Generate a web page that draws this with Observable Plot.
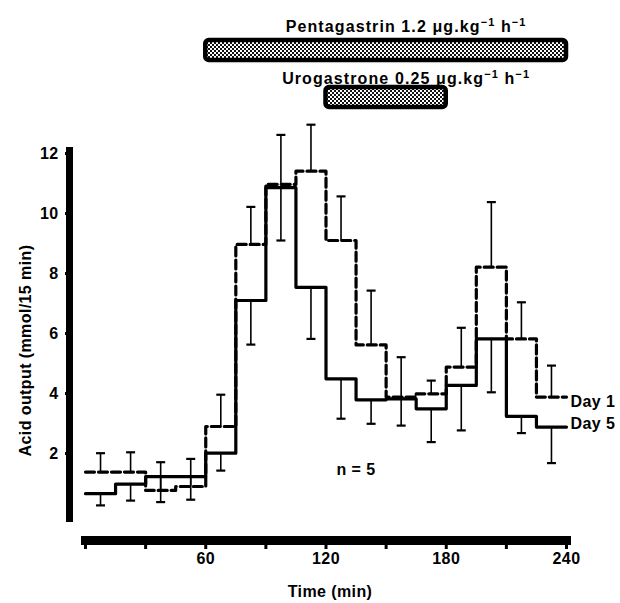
<!DOCTYPE html>
<html>
<head>
<meta charset="utf-8">
<script src="https://cdn.jsdelivr.net/npm/d3@7"></script>
<script src="https://cdn.jsdelivr.net/npm/@observablehq/plot@0.6"></script>
<style>
  body { margin: 0; background: #fff; }
  #chart { width: 620px; height: 603px; }
  #chart svg { display: block; }
</style>
</head>
<body>
<div id="chart"></div>
<script>
// ---- data ----
const periodStart = [0, 15, 30, 45, 60, 75, 90, 105, 120, 135, 150, 165, 180, 195, 210, 225];
const periodLength = 15;
const day1 = [1.38, 1.38, 0.77, 0.90, 2.90, 8.97, 10.97, 11.41, 9.10, 5.62, 3.88, 3.99, 4.88, 8.21, 5.82, 3.88];
const day1Sem = [0.63, 0.66, 0.94, 0.92, 1.06, 1.25, 1.65, 1.55, 1.47, 1.81, 1.33, 0.44, 1.31, 2.17, 1.22, 1.05];
const day5 = [0.66, 0.98, 1.23, 1.23, 2.01, 7.10, 10.86, 7.54, 4.49, 3.79, 3.82, 3.49, 4.27, 5.82, 3.24, 2.88];
const day5Sem = [0.39, 0.55, 0.85, 0.77, 0.58, 1.47, 1.76, 1.72, 1.33, 0.80, 0.89, 1.11, 1.50, 1.78, 0.56, 1.20];
const seriesNames = ["Day 1", "Day 5"];
const treatments = ["Pentagastrin", "Urogastrone"];
const treatmentLabels = ["Pentagastrin 1.2 \u03bcg.kg\u207b\u00b9 h\u207b\u00b9", "Urogastrone 0.25 \u03bcg.kg\u207b\u00b9 h\u207b\u00b9"];
const treatmentStart = [60, 120];
const treatmentEnd = [240, 180];
const yTicks = [2, 4, 6, 8, 10, 12];
const xTicks = [0, 30, 60, 90, 120, 150, 180, 210, 240];
const xTickLabels = [60, 120, 180, 240];
const nLabel = "n = 5";
const yTitle = "Acid output (mmol/15 min)";
const xTitle = "Time (min)";

// ---- derived tables ----
const endTime = periodStart[periodStart.length - 1] + periodLength;
const stepPoints = vals => periodStart.map((t, i) => ({t, v: vals[i]})).concat([{t: endTime, v: vals[vals.length - 1]}]);
const d1Line = stepPoints(day1);
const d5Line = stepPoints(day5);
const d1Err = periodStart.map((t, i) => ({mid: t + periodLength / 2, v: day1[i], tip: day1[i] + day1Sem[i]}));
const d5Err = periodStart.map((t, i) => ({mid: t + periodLength / 2, v: day5[i], tip: day5[i] - day5Sem[i]}));
const treatData = treatments.map((name, i) => ({name, label: treatmentLabels[i], start: treatmentStart[i], end: treatmentEnd[i]}));

const font = "'Liberation Sans', Arial, Helvetica, sans-serif";
const baseStyle = {fontFamily: font, fontSize: "16px", fontWeight: "bold", color: "black", background: "white", letterSpacing: "0.4px"};
const xScale = {domain: [0, 240], range: [85, 566]};

const capSymbol = {
  draw(ctx, size) {
    const r = Math.sqrt(size / Math.PI);
    ctx.moveTo(-r, 0);
    ctx.lineTo(r, 0);
  }
};

// ---- top: treatment bars ----
const topPlot = Plot.plot({
  width: 620, height: 112, margin: 0,
  style: {...baseStyle, letterSpacing: "1.1px"},
  x: {...xScale, axis: null},
  y: {type: "band", domain: treatments, range: [39, 107], paddingInner: 0.58, paddingOuter: 0, axis: null},
  marks: [
    Plot.barX(treatData, {x1: "start", x2: "end", y: "name", fill: "#888", stroke: "black", strokeWidth: 4.5, rx: 3.5}),
    Plot.text(treatData.slice(0, 1), {x: d => (d.start + d.end) / 2, y: "name", text: "label", textAnchor: "middle", dx: 20, dy: -24, fontSize: 16}),
    Plot.text(treatData.slice(1), {x: d => (d.start + d.end) / 2, y: "name", text: "label", textAnchor: "middle", dx: 20, dy: -18.5, fontSize: 16})
  ]
});
{
  const svg = d3.select(topPlot);
  const defs = svg.insert("defs", ":first-child");
  const pat = defs.append("pattern").attr("id", "chk").attr("width", 4).attr("height", 4).attr("patternUnits", "userSpaceOnUse");
  pat.append("rect").attr("width", 4).attr("height", 4).attr("fill", "white");
  pat.append("rect").attr("width", 2).attr("height", 2).attr("fill", "#111");
  pat.append("rect").attr("x", 2).attr("y", 2).attr("width", 2).attr("height", 2).attr("fill", "#111");
  svg.selectAll('g[aria-label="bar"] rect').attr("fill", "url(#chk)");
  // typeset the "⁻¹" exponents as raised, smaller text
  svg.selectAll('g[aria-label="text"] text').each(function() {
    const parts = this.textContent.split("\u207b\u00b9");
    if (parts.length < 2) return;
    const el = d3.select(this);
    el.text(null);
    parts.forEach((p, i) => {
      if (p) el.append("tspan").attr("dy", i ? 6 : null).text(p);
      if (i < parts.length - 1) el.append("tspan").attr("dy", -6).attr("font-size", 11).text("\u22121");
    });
  });
}

// ---- main chart ----
const mainPlot = Plot.plot({
  width: 620, height: 413, marginTop: 38, marginBottom: 7, marginLeft: 69, marginRight: 0,
  style: baseStyle,
  x: {...xScale, axis: null},
  y: {domain: [0, 12], range: [401, 41]},
  marks: [
    Plot.frame({anchor: "left", stroke: "black", strokeWidth: 7}),
    Plot.axisY({ticks: yTicks, tickSize: 4, tickPadding: 7, strokeWidth: 3, tickFormat: d => String(d), label: null, fontSize: 16}),
    Plot.text([yTitle], {frameAnchor: "left", text: d => d, rotate: -90, textAnchor: "middle", dx: -44, dy: 16, fontSize: 16}),
    Plot.ruleX(d1Err, {x: "mid", y1: "v", y2: "tip", stroke: "black", strokeWidth: 1.6}),
    Plot.ruleX(d5Err, {x: "mid", y1: "v", y2: "tip", stroke: "black", strokeWidth: 1.6}),
    Plot.dot(d1Err, {x: "mid", y: "tip", symbol: capSymbol, r: 4.5, stroke: "black", fill: "none", strokeWidth: 2.2}),
    Plot.dot(d5Err, {x: "mid", y: "tip", symbol: capSymbol, r: 4.5, stroke: "black", fill: "none", strokeWidth: 2.2}),
    Plot.line(d5Line, {x: "t", y: "v", curve: "step-after", stroke: "black", strokeWidth: 3.2}),
    Plot.line(d1Line, {x: "t", y: "v", curve: "step-after", stroke: "black", strokeWidth: 3.2, strokeDasharray: "9,4"}),
    Plot.text([{t: endTime, v: day1[day1.length - 1], label: seriesNames[0]}], {x: "t", y: "v", text: "label", textAnchor: "start", dx: 4, dy: 5, fontSize: 16}),
    Plot.text([{t: endTime, v: day5[day5.length - 1], label: seriesNames[1]}], {x: "t", y: "v", text: "label", textAnchor: "start", dx: 4, dy: -3.5, fontSize: 16}),
    Plot.text([nLabel], {frameAnchor: "bottom", text: d => d, textAnchor: "middle", dx: 11, dy: -44, fontSize: 16})
  ]
});

// ---- time axis ----
const axisPlot = Plot.plot({
  width: 620, height: 78, marginTop: 15, marginBottom: 63, marginLeft: 85, marginRight: 54,
  style: baseStyle,
  x: {...xScale, axis: null},
  marks: [
    Plot.frame({anchor: "top", stroke: "black", strokeWidth: 9}),
    Plot.axisX({ticks: xTicks, anchor: "bottom", tickSize: 9, tickPadding: 3, strokeWidth: 3, label: null, fontSize: 16,
      tickFormat: d => xTickLabels.includes(d) ? String(d) : ""}),
    Plot.text([xTitle], {frameAnchor: "bottom", text: d => d, textAnchor: "middle", dx: 4, dy: 56, fontSize: 16})
  ]
});

const chart = document.getElementById("chart");
chart.append(topPlot, mainPlot, axisPlot);
</script>
</body>
</html>
